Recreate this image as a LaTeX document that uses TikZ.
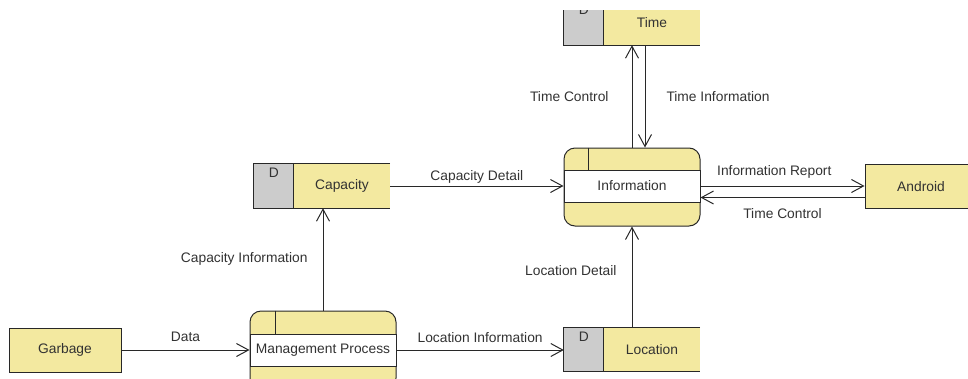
\documentclass[tikz,border=0pt]{standalone}
\usepackage{fontspec}
\setmainfont{Liberation Sans}
\usetikzlibrary{positioning}
\usetikzlibrary{arrows.meta}
\definecolor{dfdyellow}{RGB}{243,233,160}
\definecolor{dfdgray}{RGB}{204,204,204}
\definecolor{dfdline}{RGB}{40,40,40}
\definecolor{dfdtext}{RGB}{50,50,50}

\begin{document}
\begin{tikzpicture}
 [ x=1pt, y=-1pt
 , every node/.style={font=\fontsize{13.8}{16}\selectfont, text=dfdtext}
 , line/.style={draw=dfdline, line width=1pt}
 , flow/.style={line, -{Straight Barb[length=12pt, width=13pt, line width=1pt]}}
 , flowtext/.style={inner sep=2pt}
 , entity/.style={line, fill=dfdyellow, minimum width=112pt, minimum height=44pt, inner sep=0pt}
 , store/.style={fill=dfdyellow, minimum width=136pt, minimum height=44pt, inner sep=0pt}
 , process/.style={line, fill=dfdyellow, rounded corners=11pt, minimum width=136pt, minimum height=78pt, inner sep=0pt}
 , body/.style={line, fill=white, minimum width=136pt, minimum height=32pt, inner sep=0pt}
 ]
  \useasboundingbox (0,0) rectangle (968,378);
  \clip (0,10) rectangle (968,378);

  % external entities
  \node[entity] (garbage) at (65,350) {Garbage};
  \node[entity] (android) at (921,186.5) {Android};

  % processes
  \node[process] (info) at (632,187) {};
  \node[body] (infobody) at (632,186) {Information};
  \draw[line] ([xshift=25pt]info.north west) -- ([xshift=25pt]infobody.north west);
  \node[process, minimum width=146pt] (manage) at (323,350) {};
  \node[body, minimum width=146pt] (managebody) at (323,350) {Management Process};
  \draw[line] ([xshift=26pt]manage.north west) -- ([xshift=26pt]managebody.north west);

  % data stores
  \node[store] (time) at (632,23) {};
  \node[store] (capacity) at (322,186) {};
  \node[store] (location) at (632,349.5) {};
  \foreach \s/\lbl in {time/Time, capacity/Capacity, location/Location}
  {
    \fill[dfdgray] (\s.north west) rectangle ([xshift=40pt]\s.south west);
    \draw[line] (\s.north east) -- (\s.north west) -- (\s.south west) -- (\s.south east);
    \draw[line] ([xshift=40pt]\s.north west) -- ([xshift=40pt]\s.south west);
    \node (\s-tag) at ([xshift=20pt,yshift=-9pt]\s.north west) {D};
    \node (\s-name) at ([xshift=20pt]\s.center) {\lbl};
  }

  % flows
  \draw[flow] (garbage) -- node[above=6pt, flowtext] {Data} (manage);
  \draw[flow] (manage.north) -- node[left=13pt, flowtext] {Capacity Information} (manage.north |- capacity.south);
  \draw[flow] (capacity) -- node[above=0pt, flowtext] {Capacity Detail} (capacity -| info.west);
  \draw[flow] (manage) -- node[above=5pt, flowtext] {Location Information} (manage -| location.west);
  \draw[flow] (location) -- node[pos=0.56, left=13pt, flowtext] {Location Detail} (info);
  \draw[flow] (info.north) -- node[left=21pt, flowtext] {Time Control} (info.north |- time.south);
  \draw[flow] ([xshift=13pt]info.north |- time.south) -- node[right=19pt, flowtext] {Time Information} ([xshift=13pt]info.north);
  \draw[flow] (infobody) -- node[pos=0.45, above=5pt, flowtext] {Information Report} (infobody -| android.west);
  \draw[flow] ([yshift=-11pt]android.west) -- node[below=8pt, flowtext] {Time Control} ([yshift=-11pt]android.west -| info.east);
\end{tikzpicture}
\end{document}
